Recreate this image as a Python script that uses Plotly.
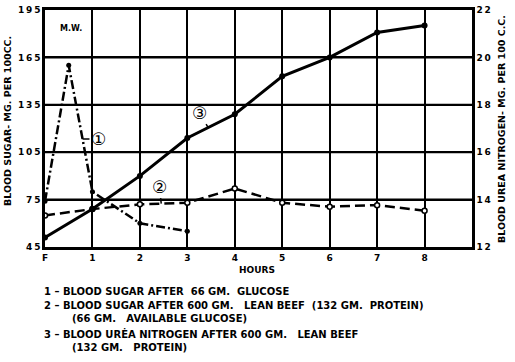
import plotly.graph_objects as go

# ---- data ----
hours_labels = ["F", "1", "2", "3", "4", "5", "6", "7", "8"]
hours_pos = [0, 1, 2, 3, 4, 5, 6, 7, 8]

s1_x = [0, 0.5, 1, 2, 3]
s1_y = [74, 160, 80, 60, 55]          # blood sugar after 66 gm glucose

s2_x = [0, 1, 2, 3, 4, 5, 6, 7, 8]
s2_y = [65, 69, 72, 73, 82, 73, 70.5, 71.5, 68]   # blood sugar after lean beef

s3_x = [0, 1, 2, 3, 4, 5, 6, 7, 8]
s3_y = [12.4, 13.6, 15.0, 16.6, 17.6, 19.2, 20.0, 21.05, 21.35]  # BUN

left_ticks = [45, 75, 105, 135, 165, 195]
left_ticktext = ["4\u20095", "7\u20095", "1\u20090\u20095", "1\u20093\u20095",
                 "1\u20096\u20095", "1\u20099\u20095"]
right_ticks = [12, 14, 16, 18, 20, 22]
right_ticktext = ["1\u20092", "1\u20094", "1\u20096", "1\u20098", "2\u20090", "2\u20092"]

legend_lines = [
    "1 – BLOOD SUGAR AFTER  66 GM.  GLUCOSE",
    "2 – BLOOD SUGAR AFTER 600 GM.   LEAN BEEF  (132 GM.  PROTEIN)",
    "(66 GM.   AVAILABLE GLUCOSE)",
    "3 – BLOOD URĖA NITROGEN AFTER 600 GM.   LEAN BEEF",
    "(132 GM.   PROTEIN)",
]

FONT = "DejaVu Sans"
W, H = 515, 362
L, R, T, B = 45, 43, 10, 115

fig = go.Figure()
fig.add_trace(go.Scatter(x=s1_x, y=s1_y, mode="lines+markers",
                         line=dict(color="black", width=2.5, dash="9px,3px,2px,3px"),
                         marker=dict(color="black", size=5), yaxis="y"))
fig.add_trace(go.Scatter(x=s2_x, y=s2_y, mode="lines+markers",
                         line=dict(color="black", width=2.5, dash="10px,5px"),
                         marker=dict(color="white", size=5, symbol="circle",
                                     line=dict(color="black", width=1.5)), yaxis="y"))
fig.add_trace(go.Scatter(x=s3_x, y=s3_y, mode="lines+markers",
                         line=dict(color="black", width=3),
                         marker=dict(color="black", size=6), yaxis="y2"))

axfont = dict(family=FONT, size=9, color="black", weight="bold")

fig.update_layout(
    width=W, height=H, margin=dict(l=L, r=R, t=T, b=B),
    paper_bgcolor="white", plot_bgcolor="rgba(0,0,0,0)", showlegend=False,
    font=dict(family=FONT, color="black"),
    xaxis=dict(range=[0, 9], tickvals=hours_pos, ticktext=hours_labels,
               showgrid=True, gridcolor="black", gridwidth=2, automargin=False,
               showline=True, linecolor="black", linewidth=2.5, mirror=True,
               zeroline=False, ticks="", tickfont=axfont),
    yaxis=dict(range=[45, 195], tickvals=left_ticks, ticktext=left_ticktext,
               showgrid=True, gridcolor="black", gridwidth=2, automargin=False,
               showline=True, linecolor="black", linewidth=2.5, mirror=True,
               zeroline=False, ticks="", tickfont=axfont),
    yaxis2=dict(range=[12, 22], tickvals=right_ticks, ticktext=right_ticktext,
                overlaying="y", side="right", showgrid=False, zeroline=False,
                automargin=False,
                showline=True, linecolor="black", linewidth=2.5,
                ticks="", tickfont=axfont),
)

# horizontal grid lines at the left-axis tick values
for v in left_ticks[1:-1]:
    fig.add_shape(type="line", xref="paper", yref="y", x0=0, x1=1, y0=v, y1=v,
                  line=dict(color="black", width=2), layer="below")

ph = H - T - B
pw = W - L - R
def py(pix):
    return (H - B - pix) / ph
def px(pix):
    return (pix - L) / pw

bold = dict(family=FONT, color="black", weight="bold")
circ = dict(family=FONT, size=17, color="black")
ann = []
ann.append(dict(text="BLOOD SUGAR- MG. PER 100CC.", textangle=-90,
                x=px(7), y=py(121), xref="paper", yref="paper",
                xanchor="center", yanchor="middle",
                showarrow=False, font=dict(**bold, size=9.5)))
ann.append(dict(text="BLOOD UREA NITROGEN- MG. PER 100 C.C.", textangle=-90,
                x=px(501), y=py(129), xref="paper", yref="paper",
                xanchor="center", yanchor="middle",
                showarrow=False, font=dict(**bold, size=9.5)))
ann.append(dict(text="HOURS", x=px(257), y=py(270), xref="paper", yref="paper",
                xanchor="center", yanchor="middle",
                showarrow=False, font=dict(**bold, size=9)))
ann.append(dict(text="M.W.", x=0.55, y=183, xref="x", yref="y",
                showarrow=False, font=dict(**bold, size=8)))
# circled curve labels with short leader strokes
ann.append(dict(text="①", x=0.79, y=113.4, xref="x", yref="y", showarrow=True,
                arrowhead=0, arrowwidth=1.5, arrowcolor="black", ax=16, ay=0,
                standoff=0, startstandoff=0, font=circ))
ann.append(dict(text="②", x=2.45, y=72.5, xref="x", yref="y", showarrow=True,
                arrowhead=0, arrowwidth=1.5, arrowcolor="black", ax=-2, ay=-17,
                standoff=0, font=circ))
ann.append(dict(text="③", x=3.44, y=17.04, xref="x", yref="y2", showarrow=True,
                arrowhead=0, arrowwidth=1.5, arrowcolor="black", ax=-9, ay=-15,
                standoff=0, font=circ))

leg_pos = [(42, 291), (42, 305), (70, 318), (42, 333), (70, 347)]
for txt, (lx, ly) in zip(legend_lines, leg_pos):
    ann.append(dict(text=txt, x=px(lx), y=py(ly), xref="paper", yref="paper",
                    xanchor="left", yanchor="middle", showarrow=False,
                    font=dict(**bold, size=10)))
fig.update_layout(annotations=ann)

fig.write_html("out.html", config={"displayModeBar": False},
               post_script="document.body.style.margin='0';document.body.style.overflow='hidden';")
